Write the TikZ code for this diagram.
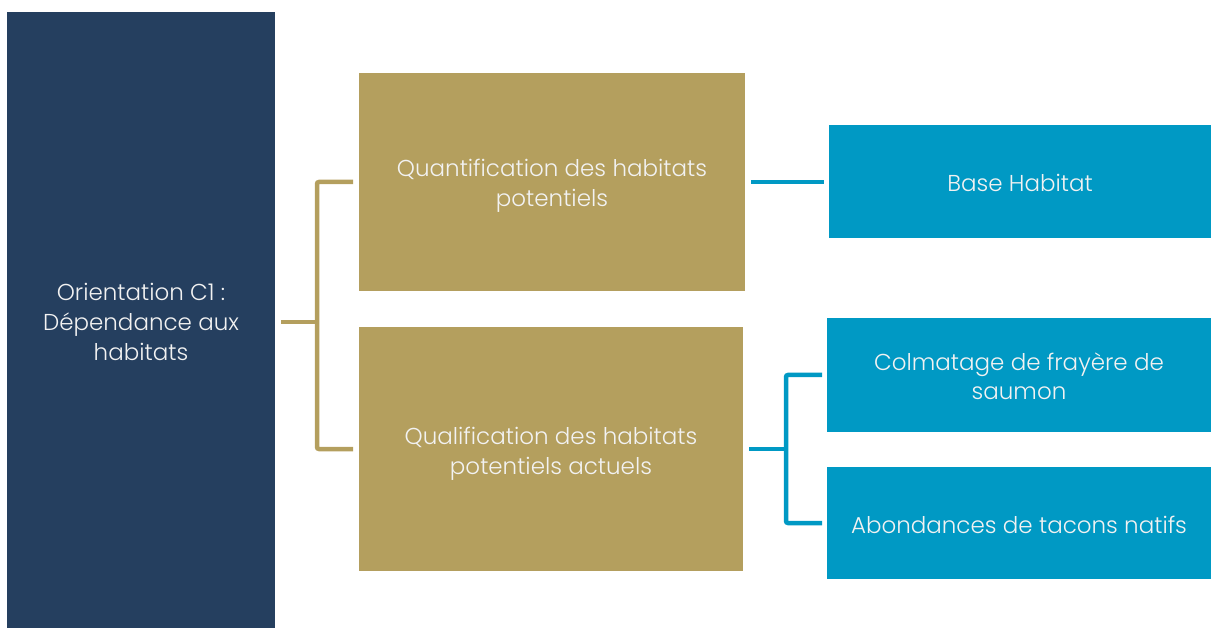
\documentclass[tikz,border=0pt]{standalone}
\usepackage{fontspec}
\setmainfont{Poppins}[UprightFont=* Light,Ligatures=NoCommon]
\usetikzlibrary{calc}
\definecolor{navy}{HTML}{253F5F}
\definecolor{gold}{HTML}{B49F5E}
\definecolor{cyanb}{HTML}{0099C4}
\definecolor{txt}{HTML}{F2F2F2}
\newcommand\mltxt[1]{\raisebox{-4pt}[\height][\depth]{\begin{tabular}{@{}c@{}}#1\end{tabular}}}
\begin{document}
\begin{tikzpicture}[x=1pt,y=-1pt,
  box/.style={inner sep=0pt,outer sep=0pt,text=txt,
    font=\fontsize{23}{30}\selectfont},
  navybox/.style={box,fill=navy},
  goldbox/.style={box,fill=gold},
  bluebox/.style={box,fill=cyanb},
  goldline/.style={draw=gold,line width=4.5pt,rounded corners=2pt},
  blueline/.style={draw=cyanb,line width=4.5pt,rounded corners=2pt}]
\useasboundingbox (0,0) rectangle (1211,628);
\node[navybox,minimum width=268,minimum height=618] (navy) at (141,321) {\mltxt{Orientation C1 :\\Dépendance aux\\habitats}};
\node[goldbox,minimum width=386,minimum height=218] (gtop) at (552,182) {\mltxt{Quantification des habitats\\potentiels}};
\node[goldbox,minimum width=384,minimum height=244] (gbot) at (551,449) {\mltxt{Qualification des habitats\\potentiels actuels}};
\node[bluebox,minimum width=382,minimum height=113] (btop) at (1020,182) {\mltxt{Base Habitat}};
\node[bluebox,minimum width=384,minimum height=113] (bmid) at (1019,375) {\mltxt{Colmatage de frayère de\\saumon}};
\node[bluebox,minimum width=384,minimum height=112] (bbot) at (1019,523) {\mltxt{Abondances de tacons natifs}};
\coordinate (gj) at (317,322);
\coordinate (bj) at (786,449);
\draw[goldline] ([xshift=-6]gtop.west) -| (gj) |- ([xshift=-6]gbot.west);
\draw[goldline] ([xshift=6]navy.east |- gj) -- (gj);
\draw[blueline] ([xshift=6]gtop.east) -- ([xshift=-5]btop.west);
\draw[blueline] ([xshift=-5]bmid.west) -| (bj) |- ([xshift=-5]bbot.west);
\draw[blueline] ([xshift=6]gbot.east) -- (bj);
\end{tikzpicture}
\end{document}
